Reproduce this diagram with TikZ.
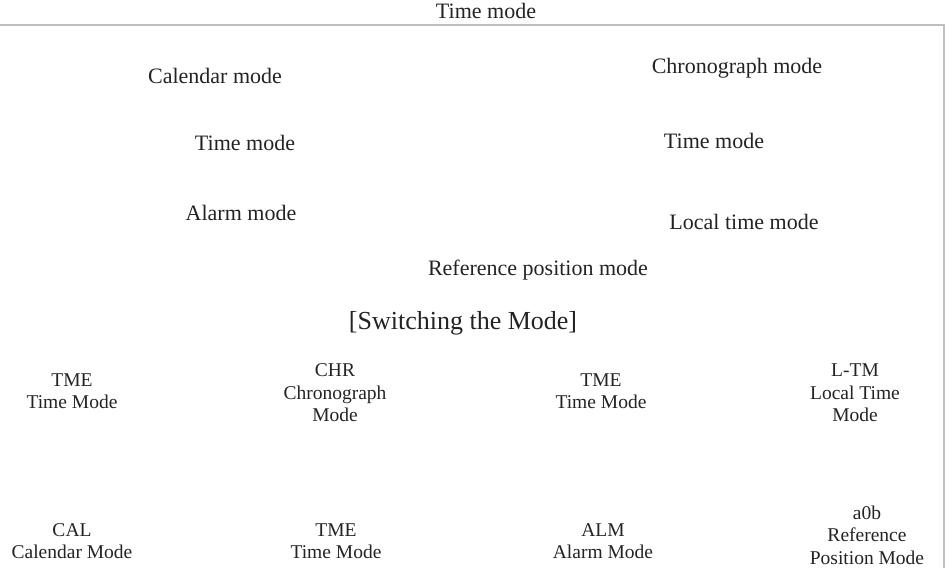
\documentclass[tikz,border=0pt]{standalone}
\usepackage{fontspec}
\setmainfont{Liberation Serif}
\definecolor{mframe}{RGB}{192,192,192}
\definecolor{mtext}{RGB}{35,35,35}

\begin{document}
\begin{tikzpicture}[x=1pt,y=-1pt,color=mtext]
  \tikzset{mode label/.style={font=\fontsize{22}{26}\selectfont,inner sep=0pt},
           mode item/.style={font=\fontsize{19.5}{22.5}\selectfont,align=center,inner sep=0pt}}
  \useasboundingbox (0,0) rectangle (946,568);

  \draw[mframe, line width=2pt] (0,25) -- (944,25) -- (944,568); % frame

  \node[mode label] (title) at (486,11) {Time mode};

  % modes on the dial
  \node[mode label] (cal) at (215,76) {Calendar mode};
  \node[mode label] (chr) at (737,68) {Chronograph mode};
  \node[mode label] (tmeL) at (245,143) {Time mode};
  \node[mode label] (tmeR) at (714,141) {Time mode};
  \node[mode label] (alm) at (241,213) {Alarm mode};
  \node[mode label] (ltm) at (744,222) {Local time mode};
  \node[mode label] (ref) at (538,270) {Reference position mode};

  \node[mode label, font=\fontsize{26}{31}\selectfont] (switch) at (463,323) {[Switching the Mode]};

  % switching order
  \node[mode item] (s1) at (72,391) {TME\\Time Mode};
  \node[mode item] (s2) at (335,393) {CHR\\Chronograph\\Mode};
  \node[mode item] (s3) at (601,391) {TME\\Time Mode};
  \node[mode item] (s4) at (855,393) {L-TM\\Local Time\\Mode};
  \node[mode item] (s5) at (72,541) {CAL\\Calendar Mode};
  \node[mode item] (s6) at (336,541) {TME\\Time Mode};
  \node[mode item] (s7) at (603,541) {ALM\\Alarm Mode};
  \node[mode item] (s8) at (867,535) {a0b\\Reference\\Position Mode};
\end{tikzpicture}
\end{document}
